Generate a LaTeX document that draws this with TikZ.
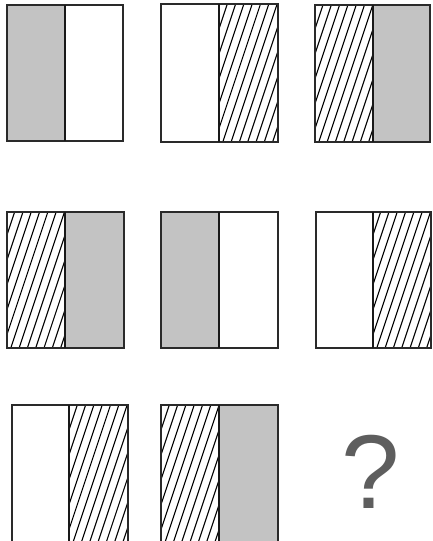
\documentclass[tikz,border=0pt]{standalone}
\usepackage{fontspec}
\setmainfont{Liberation Sans}
\definecolor{fillgray}{HTML}{C3C3C3}
\definecolor{framecol}{HTML}{2A2A2A}
\definecolor{qcol}{HTML}{5E5E5E}
\tikzset{
  frame/.style={draw=framecol, line width=1.3pt},
  midline/.style={draw=black!90, line width=1.3pt},
  grayhalf/.style={fill=fillgray},
  hatchline/.style={draw=black, line width=1.1pt},
  qmark/.style={text=qcol, inner sep=0pt, font=\fontsize{105}{105}\selectfont}
}
% #1 left x, #2 right x, #3 top y, #4 bottom y
\newcommand\hatchpart[4]{%
  \begin{scope}
    \clip (#1,#3) rectangle (#2,#4);
    \foreach \k in {0,...,13}
      \draw[hatchline] ({#1-46+\k*8.3},#4) -- ++({(#4-#3)/3},{-(#4-#3)});
  \end{scope}}
\newcommand\grayhalfpart[4]{\fill[grayhalf] (#1,#3) rectangle (#2,#4);}
% #1 left, #2 mid, #3 right, #4 top, #5 bottom
\newcommand\cellframe[5]{%
  \draw[frame] (#1,#4) rectangle (#3,#5);
  \draw[midline] (#2,#4) -- (#2,#5);}
\begin{document}
\begin{tikzpicture}[x=1pt,y=-1pt]
\useasboundingbox (0,0) rectangle (432,541);
% Row 1
\grayhalfpart{7}{65}{5}{141}
\cellframe{7}{65}{123}{5}{141}
\hatchpart{219}{278}{4}{142}
\cellframe{161}{219}{278}{4}{142}
\hatchpart{315}{373}{5}{142}
\grayhalfpart{373}{430}{5}{142}
\cellframe{315}{373}{430}{5}{142}
% Row 2
\hatchpart{7}{65}{212}{348}
\grayhalfpart{65}{124}{212}{348}
\cellframe{7}{65}{124}{212}{348}
\grayhalfpart{161}{219}{212}{348}
\cellframe{161}{219}{278}{212}{348}
\hatchpart{373}{431}{212}{348}
\cellframe{316}{373}{431}{212}{348}
% Row 3
\hatchpart{69}{128}{405}{543}
\cellframe{12}{69}{128}{405}{543}
\hatchpart{161}{219}{405}{543}
\grayhalfpart{219}{278}{405}{543}
\cellframe{161}{219}{278}{405}{543}
% Question mark
\node[qmark] (q) at (370.5,471.5) {?};
\end{tikzpicture}
\end{document}
